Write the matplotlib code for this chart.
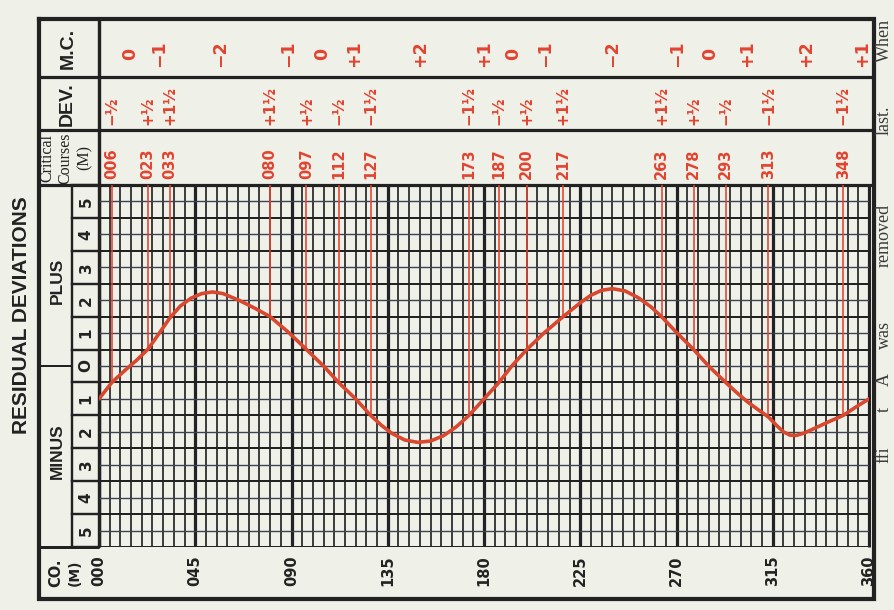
import matplotlib
matplotlib.use('Agg')
import matplotlib.pyplot as plt
from matplotlib.transforms import blended_transform_factory
import numpy as np

# ---------------- data ----------------
curve_course = [0, 3, 6, 12, 18, 23, 28, 33, 38, 43, 48, 53, 58, 66, 73, 80, 89, 97,
                105, 112, 120, 127, 132, 137, 143, 149, 155, 161, 167, 173, 180, 187,
                193, 200, 208, 217, 225, 230, 235, 240, 246, 252, 258, 263, 270, 278,
                285, 293, 298, 303, 308, 313, 317, 320, 323, 326, 330, 336, 342, 348,
                354, 360]
curve_dev = [-1.0, -0.75, -0.5, -0.14, 0.2, 0.52, 0.98, 1.45, 1.82, 2.06, 2.2, 2.25, 2.2,
             1.98, 1.75, 1.5, 1.0, 0.5, 0.0, -0.5, -1.0, -1.5, -1.8, -2.05, -2.25, -2.32,
             -2.28, -2.12, -1.85, -1.5, -1.0, -0.5, 0.0, 0.5, 1.0, 1.5, 1.92, 2.15, 2.3,
             2.35, 2.28, 2.08, 1.8, 1.5, 1.02, 0.5, 0.0, -0.5, -0.8, -1.08, -1.32, -1.55,
             -1.82, -2.0, -2.1, -2.11, -2.03, -1.85, -1.67, -1.5, -1.24, -1.0]

critical_courses = [6, 23, 33, 80, 97, 112, 127, 173, 187, 200, 217, 263, 278, 293, 313, 348]
critical_dev = [-0.5, 0.5, 1.5, 1.5, 0.5, -0.5, -1.5, -1.5, -0.5, 0.5, 1.5, 1.5, 0.5, -0.5, -1.5, -1.5]
course_labels = ['006', '023', '033', '080', '097', '112', '127', '173', '187', '200',
                 '217', '263', '278', '293', '313', '348']
dev_labels = ['−½', '+½', '+1½', '+1½', '+½', '−½', '−1½', '−1½', '−½', '+½',
              '+1½', '+1½', '+½', '−½', '−1½', '−1½']
mc_labels = ['0', '−1', '−2', '−1', '0', '+1', '+2', '+1', '0', '−1', '−2', '−1',
             '0', '+1', '+2', '+1']

xtick_vals = [0, 45, 90, 135, 180, 225, 270, 315, 360]
xtick_labels = ['000', '045', '090', '135', '180', '225', '270', '315', '360']
row_vals = [5, 4, 3, 2, 1, 0, -1, -2, -3, -4, -5]
row_labels = ['5', '4', '3', '2', '1', 'O', '1', '2', '3', '4', '5']

margin_words = ['When', 'last.', 'removed', 'was', 'A', 't', 'ffi']
margin_word_y = [40, 120, 235, 335, 380, 410, 455]

# ---------------- style ----------------
PAPER = '#eff1e9'
INK = '#222222'
RED = '#e2432f'
CURVE = '#d9472f'
PX = 1 / 1.389  # points per pixel at dpi 100

W, H = 894, 610
fig = plt.figure(figsize=(W / 100, H / 100), dpi=100)
fig.patch.set_facecolor(PAPER)

bg = fig.add_axes([0, 0, 1, 1])
bg.set_xlim(0, W)
bg.set_ylim(H, 0)
bg.axis('off')

# layout (pixels)
L, R, T, B = 39, 874, 19, 599
GX0, GX1, GY0, GY1 = 99, 869, 185, 547
Y_MC, Y_DEV = 77, 130
X_PM = 72

ax = fig.add_axes([GX0 / W, 1 - GY1 / H, (GX1 - GX0) / W, (GY1 - GY0) / H])
ax.set_xlim(0, 360)
ax.set_ylim(-5.5, 5.5)
ax.axis('off')

# grid
minor_x = [c for c in range(0, 361, 5) if c % 45 != 0]
major_x = list(range(0, 361, 45))
ax.vlines(minor_x, -5.5, 5.5, color=INK, lw=1.7 * PX, zorder=1)
ax.vlines(major_x, -5.5, 5.5, color=INK, lw=3.2 * PX, zorder=1)
half_y = np.arange(-5.5, 5.51, 1.0)
int_y = np.arange(-5, 5.01, 1.0)
ax.hlines(half_y, 0, 360, color=INK, lw=2.0 * PX, zorder=1)
ax.hlines(int_y, 0, 360, color='#3c4250', lw=1.4 * PX, zorder=1)

# critical course red lines and deviation curve
ax.vlines(critical_courses, critical_dev, 5.5, color=RED, lw=1.6 * PX, zorder=2)
ax.plot(curve_course, curve_dev, color=CURVE, lw=3.6 * PX, solid_capstyle='round',
        solid_joinstyle='round', zorder=3)

# table frame
def hline(y, x0, x1, w):
    bg.plot([x0, x1], [y, y], color=INK, lw=w * PX, solid_capstyle='butt')

def vline(x, y0, y1, w):
    bg.plot([x, x], [y0, y1], color=INK, lw=w * PX, solid_capstyle='butt')

hline(Y_MC, L, R, 3.2)
hline(Y_DEV, L, R, 3.2)
hline(GY0, L, R, 3.2)
hline(GY1, L, GX0, 3.0)
vline(GX0, T, GY1, 3.4)
vline(X_PM, GY0, GY1, 2.4)
vline(GX1, GY0, GY1, 3.0)
bg.plot([L, R, R, L, L], [T, T, B, B, T], color=INK, lw=4.2 * PX, solid_joinstyle='miter')

tx_ax_y = blended_transform_factory(bg.transData, ax.transData)
tx_x_bg = blended_transform_factory(ax.transData, bg.transData)

# PLUS / MINUS separator and row boxes in number column
bg.plot([L, X_PM], [0, 0], transform=tx_ax_y, color=INK, lw=2.0 * PX)
for yv in half_y:
    bg.plot([X_PM, GX0], [yv, yv], transform=tx_ax_y, color=INK, lw=2.4 * PX)

# row labels
for v, lab in zip(row_vals, row_labels):
    bg.text(86, v, lab, transform=tx_ax_y, rotation=90, ha='center', va='center',
            fontsize=11, fontweight='bold', family='DejaVu Sans', color=INK)
bg.text(57, 2.6, 'PLUS', transform=tx_ax_y, rotation=90, ha='center', va='center',
        fontsize=12.5, fontweight='bold', family='Liberation Sans', color=INK)
bg.text(57, -2.6, 'MINUS', transform=tx_ax_y, rotation=90, ha='center', va='center',
        fontsize=12.5, fontweight='bold', family='Liberation Sans', color=INK)

# header column texts
bg.text(68, 48, 'M.C.', rotation=90, ha='center', va='center', fontsize=14,
        fontweight='bold', family='Liberation Sans', color=INK)
bg.text(67, 104, 'DEV.', rotation=90, ha='center', va='center', fontsize=14,
        fontweight='bold', family='Liberation Sans', color=INK)
for xx, t in zip([47, 65, 85], ['Critical', 'Courses', '(M)']):
    bg.text(xx, 158, t, rotation=90, ha='center', va='center', fontsize=11.5,
            family='Liberation Serif', color=INK)
bg.text(56, 573, 'CO.', rotation=90, ha='center', va='center', fontsize=10.5,
        fontweight='bold', family='DejaVu Sans', color=INK)
bg.text(75, 573, '(M)', rotation=90, ha='center', va='center', fontsize=10,
        fontweight='bold', family='DejaVu Sans', color=INK)

# course axis labels
for c, lab in zip(xtick_vals, xtick_labels):
    bg.text(c, 571, lab, transform=tx_x_bg, rotation=90, ha='center', va='center',
            fontsize=10.5, fontweight='bold', family='DejaVu Sans', color=INK)

# red annotations
for c, lab, d in zip(critical_courses, course_labels, dev_labels):
    bg.text(c, 179, lab, transform=tx_x_bg, rotation=90, ha='center', va='bottom',
            fontsize=10.5, fontweight='bold', family='DejaVu Sans', color=RED)
    bg.text(c, 125, d, transform=tx_x_bg, rotation=90, ha='center', va='bottom',
            fontsize=11, fontweight='bold', family='DejaVu Sans', color=RED)
bounds = critical_courses + [critical_courses[0] + 360]
for i, lab in enumerate(mc_labels):
    mid = (bounds[i] + bounds[i + 1]) / 2
    bg.text(mid, 54, lab, transform=tx_x_bg, rotation=90, ha='center', va='center',
            fontsize=12.5, fontweight='bold', family='DejaVu Sans', color=RED)

# title and margin text
bg.text(22, 315, 'RESIDUAL DEVIATIONS', rotation=90, ha='center', va='center',
        fontsize=15, fontweight='bold', family='Liberation Sans', color=INK)
for wd, yy in zip(margin_words, margin_word_y):
    bg.text(884, yy, wd, rotation=90, ha='center', va='center', fontsize=13,
            family='Liberation Serif', color='#3a3a3a')

fig.savefig('out.png', dpi=100, facecolor=PAPER)
